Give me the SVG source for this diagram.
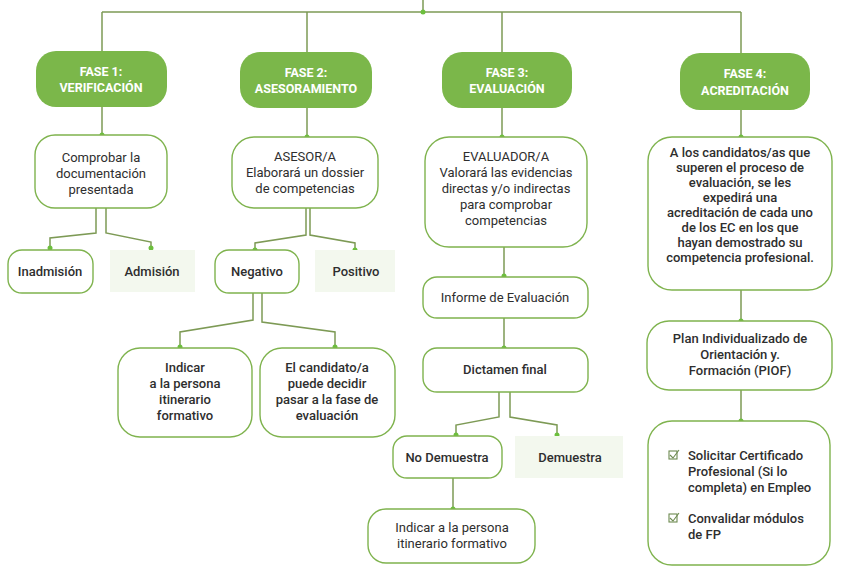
<svg xmlns="http://www.w3.org/2000/svg" width="850" height="584" viewBox="0 0 850 584">
<style>
.phase{fill:#7bb74a}
.pt{fill:#fff;font-family:Roboto,"Noto Sans",sans-serif;font-weight:700;font-size:12.5px;text-anchor:middle}
.box{fill:#fff;stroke:#7fb34e;stroke-width:1.4}
.soft{fill:#f3f8ee}
.t{fill:#2e2e2e;font-family:Roboto,"Noto Sans",sans-serif;font-size:13px;text-anchor:middle}
.b{font-weight:500}
.tl{text-anchor:start}
.c{fill:none;stroke:#7d9a55;stroke-width:1.5}
.d{fill:#6cbf3d}
.ck{fill:none;stroke:#6d8a50;stroke-width:1.1}
</style>
<rect width="850" height="584" fill="#fff"/>
<g id="connectors">
<path class="c" d="M423 0V12M102 12H741M102 12V51M307 12V52M502 12V52M741 12V53"/>
<path class="c" d="M102 107V135M307 108V137M502 108V137M741 110V137"/>
<path class="c" d="M96 208V233L50 238V248M106 208V233L151 242V248"/>
<path class="c" d="M306 208V235L255 243V250M310 208V235L355 243V250"/>
<path class="c" d="M253 293V320L180 332V347M262 293V322L335 332V347"/>
<path class="c" d="M504 247V276M504 318V348"/>
<path class="c" d="M499 392V417L456 425V435M510 392V417L557 425V435"/>
<path class="c" d="M453 478V509"/>
<path class="c" d="M741 290V321M741 390V421"/>
<g class="d">
<circle cx="423" cy="12" r="2.5"/>
<circle cx="102" cy="135" r="2.5"/><circle cx="307" cy="137" r="2.5"/><circle cx="502" cy="137" r="2.5"/><circle cx="741" cy="137" r="2.5"/>
<circle cx="50" cy="248" r="2.5"/><circle cx="151" cy="248" r="2.5"/>
<circle cx="255" cy="250" r="2.5"/><circle cx="355" cy="250" r="2.5"/>
<circle cx="180" cy="347" r="2.5"/><circle cx="335" cy="347" r="2.5"/>
<circle cx="504" cy="276" r="2.5"/><circle cx="504" cy="348" r="2.5"/>
<circle cx="456" cy="435" r="2.5"/><circle cx="557" cy="435" r="2.5"/>
<circle cx="453" cy="509" r="2.5"/>
<circle cx="741" cy="321" r="2.5"/><circle cx="741" cy="421" r="2.5"/>
</g>
</g>
<g id="fase1"><rect class="phase" x="36" y="51" width="131" height="56" rx="20"/><text class="pt" x="101" y="76">FASE 1:</text><text class="pt" x="101" y="92">VERIFICACIÓN</text></g>
<g id="fase2"><rect class="phase" x="240" y="52" width="132" height="56" rx="20"/><text class="pt" x="306" y="77">FASE 2:</text><text class="pt" x="306" y="93">ASESORAMIENTO</text></g>
<g id="fase3"><rect class="phase" x="442" y="52" width="130" height="56" rx="20"/><text class="pt" x="507" y="77">FASE 3:</text><text class="pt" x="507" y="93">EVALUACIÓN</text></g>
<g id="fase4"><rect class="phase" x="680" y="53" width="130" height="57" rx="20"/><text class="pt" x="745" y="78">FASE 4:</text><text class="pt" x="745" y="95">ACREDITACIÓN</text></g>

<g id="comprobar"><rect class="box" x="35" y="135" width="132" height="73" rx="20"/><text class="t" x="101" y="162">Comprobar la</text><text class="t" x="101" y="178">documentación</text><text class="t" x="101" y="194">presentada</text></g>
<g id="inadmision"><rect class="box" x="8" y="250" width="85" height="43" rx="14"/><text class="t b" x="50" y="276">Inadmisión</text></g>
<g id="admision"><rect class="soft" x="110" y="250" width="85" height="42"/><text class="t b" x="152" y="276">Admisión</text></g>

<g id="asesor"><rect class="box" x="232" y="137" width="146" height="71" rx="22"/><text class="t" x="305" y="161">ASESOR/A</text><text class="t" x="305" y="177">Elaborará un dossier</text><text class="t" x="305" y="193">de competencias</text></g>
<g id="negativo"><rect class="box" x="215" y="250" width="84" height="43" rx="14"/><text class="t b" x="257" y="276">Negativo</text></g>
<g id="positivo"><rect class="soft" x="315" y="250" width="80" height="42"/><text class="t b" x="356" y="276">Positivo</text></g>
<g id="indicar1"><rect class="box" x="118" y="348" width="134" height="89" rx="22"/><text class="t b" x="185" y="372">Indicar</text><text class="t b" x="185" y="388">a la persona</text><text class="t b" x="185" y="404">itinerario</text><text class="t b" x="185" y="420">formativo</text></g>
<g id="candidato"><rect class="box" x="260" y="348" width="135" height="89" rx="22"/><text class="t b" x="327" y="372">El candidato/a</text><text class="t b" x="327" y="388">puede decidir</text><text class="t b" x="327" y="404">pasar a la fase de</text><text class="t b" x="327" y="420">evaluación</text></g>

<g id="evaluador"><rect class="box" x="425" y="137" width="162" height="110" rx="24"/><text class="t" x="506" y="161">EVALUADOR/A</text><text class="t" x="506" y="177">Valorará las evidencias</text><text class="t" x="506" y="193">directas y/o indirectas</text><text class="t" x="506" y="209">para comprobar</text><text class="t" x="506" y="225">competencias</text></g>
<g id="informe"><rect class="box" x="423" y="277" width="165" height="41" rx="14"/><text class="t" x="505" y="302">Informe de Evaluación</text></g>
<g id="dictamen"><rect class="box" x="423" y="348" width="165" height="44" rx="14"/><text class="t b" x="505" y="374">Dictamen final</text></g>
<g id="nodemuestra"><rect class="box" x="393" y="436" width="109" height="42" rx="14"/><text class="t b" x="447" y="462">No Demuestra</text></g>
<g id="demuestra"><rect class="soft" x="515" y="436" width="108" height="42"/><text class="t b" x="570" y="462">Demuestra</text></g>
<g id="indicar2"><rect class="box" x="368" y="509" width="167" height="54" rx="18"/><text class="t" x="452" y="532">Indicar a la persona</text><text class="t" x="452" y="548">itinerario formativo</text></g>

<g id="acreditacion"><rect class="box" x="648" y="137" width="184" height="153" rx="24"/>
<text class="t b" x="740" y="157">A los candidatos/as que</text><text class="t b" x="740" y="172">superen el proceso de</text><text class="t b" x="740" y="187">evaluación, se les</text><text class="t b" x="740" y="202">expedirá una</text><text class="t b" x="740" y="217">acreditación de cada uno</text><text class="t b" x="740" y="232">de los EC en los que</text><text class="t b" x="740" y="247">hayan demostrado su</text><text class="t b" x="740" y="262">competencia profesional.</text></g>
<g id="piof"><rect class="box" x="647" y="321" width="185" height="69" rx="22"/><text class="t b" x="740" y="343">Plan Individualizado de</text><text class="t b" x="740" y="359">Orientación y.</text><text class="t b" x="740" y="375">Formación (PIOF)</text></g>
<g id="opciones"><rect class="box" x="648" y="421" width="182" height="144" rx="24"/>
<rect class="ck" x="669" y="451" width="8" height="8"/><path class="ck" d="M670 455l3 3 6-8"/>
<rect class="ck" x="669" y="514" width="8" height="8"/><path class="ck" d="M670 518l3 3 6-8"/>
<text class="t b tl" x="688" y="460">Solicitar Certificado</text><text class="t b tl" x="688" y="476">Profesional (Si lo</text><text class="t b tl" x="688" y="492">completa) en Empleo</text>
<text class="t b tl" x="688" y="523">Convalidar módulos</text><text class="t b tl" x="688" y="539">de FP</text></g>
</svg>
